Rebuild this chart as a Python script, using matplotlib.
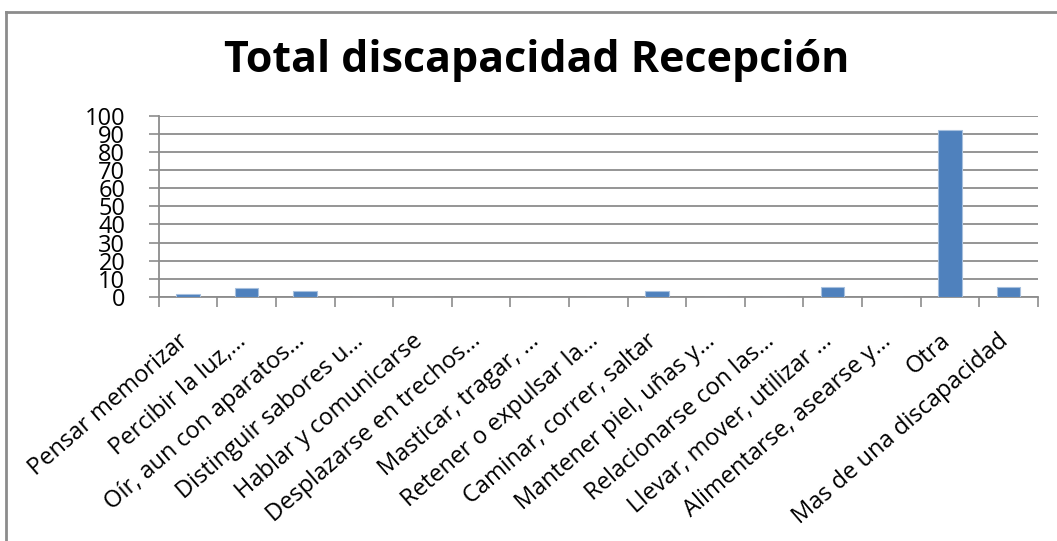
import matplotlib
matplotlib.use("Agg")
import matplotlib.pyplot as plt
from matplotlib.lines import Line2D
import matplotlib.transforms as mtransforms
import numpy as np

categories = [
    "Pensar memorizar",
    "Percibir la luz,…",
    "Oír, aun con aparatos…",
    "Distinguir sabores u…",
    "Hablar y comunicarse",
    "Desplazarse en trechos…",
    "Masticar, tragar, …",
    "Retener o expulsar la…",
    "Caminar, correr, saltar",
    "Mantener piel, uñas y…",
    "Relacionarse con las…",
    "Llevar, mover, utilizar …",
    "Alimentarse, asearse y…",
    "Otra",
    "Mas de una discapacidad",
]
values = [1.5, 4.7, 3.4, 0, 0, 0, 0, 0, 3.4, 0, 0, 5.5, 0, 92, 5.5]
yticks = [0, 10, 20, 30, 40, 50, 60, 70, 80, 90, 100]
title = "Total discapacidad Recepción"

plt.rcParams['font.family'] = ['Open Sans', 'DejaVu Sans']

W, H = 1057, 541
fig = plt.figure(figsize=(W / 100, H / 100), dpi=100)
ax = fig.add_axes([158.7 / W, 1 - 297.0 / H, (1037.7 - 158.7) / W, (297.0 - 115.7) / H])

x = np.arange(len(categories))
ax.bar(x, values, width=0.4, color="#4F81BD", edgecolor="#A7C0DE", linewidth=0.8, zorder=3)

ax.set_xlim(-0.5, len(categories) - 0.5)
ax.set_ylim(0, 100)
ax.set_yticks(yticks)
ax.set_yticklabels([str(v) for v in yticks], fontsize=17, color="#000000")
ax.yaxis.grid(True, color="#8C8C8C", linewidth=1.3, zorder=0)
ax.set_axisbelow(True)

ax.set_xticks(x)
ax.set_xticklabels(categories, rotation=41, ha="right", rotation_mode="anchor",
                   fontsize=17, color="#000000")
ax.tick_params(axis="x", which="major", length=0, pad=23)
ax.set_xticks(np.arange(-0.5, len(categories), 1.0), minor=True)
ax.tick_params(axis="x", which="minor", length=7, width=1.2, color="#8C8C8C", direction="out")
ax.tick_params(axis="y", which="major", length=7, width=1.2, color="#8C8C8C", direction="out", pad=17)

# nudge rotated category labels slightly left, as in the reference
offset = mtransforms.ScaledTranslation(-11 / 100, 0, fig.dpi_scale_trans)
for lbl in ax.get_xticklabels():
    lbl.set_transform(lbl.get_transform() + offset)

for s in ["top", "right"]:
    ax.spines[s].set_visible(False)
for s in ["left", "bottom"]:
    ax.spines[s].set_color("#8C8C8C")
    ax.spines[s].set_linewidth(1.3)

fig.text(537 / W, 1 - 72 / H, title, ha="center", va="baseline",
         fontsize=31, fontweight="bold", color="#000000")

# outer chart border (top and left edges visible)
fig.add_artist(Line2D([5.5 / W, 1.0], [1 - 11.5 / H, 1 - 11.5 / H], transform=fig.transFigure,
                      color="#8C8C8C", linewidth=2))
fig.add_artist(Line2D([5.5 / W, 5.5 / W], [1 - 11.5 / H, 0.0], transform=fig.transFigure,
                      color="#8C8C8C", linewidth=2))

fig.savefig("out.png", dpi=100, facecolor="white")
